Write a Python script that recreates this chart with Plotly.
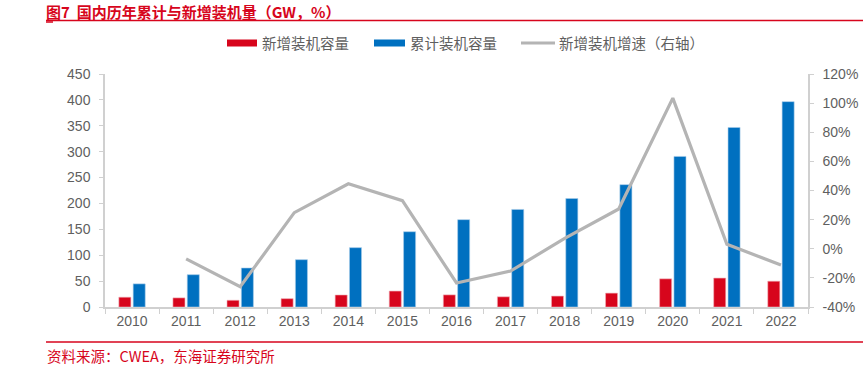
import plotly.graph_objects as go

years = ["2010", "2011", "2012", "2013", "2014", "2015", "2016",
         "2017", "2018", "2019", "2020", "2021", "2022"]
new_cap = [18.9, 17.6, 13.0, 16.1, 23.2, 30.8, 23.4, 19.7, 21.1, 26.8, 54.4, 55.9, 49.8]
cum_cap = [44.7, 62.4, 75.3, 91.4, 114.6, 145.4, 168.7, 188.4, 209.5, 236.3, 290.8, 346.7, 396.6]
growth_years = years[1:]
growth = [-6.9, -26.1, 24.8, 44.6, 33.0, -23.5, -15.3, 7.1, 27.3, 103.4, 3.1, -11.2]

left_ticks = [0, 50, 100, 150, 200, 250, 300, 350, 400, 450]
right_ticks = [-40, -20, 0, 20, 40, 60, 80, 100, 120]
right_tick_text = [f"{v}%" for v in right_ticks]

RED = "#d7051c"
BLUE = "#0070c0"
GRAY = "#b4b4b4"
TXT = "#5f5f5f"
AXIS = "#d0d0d0"
FONT = "Liberation Sans, Noto Sans CJK SC, sans-serif"
CJK = "Noto Sans CJK SC, Liberation Sans, sans-serif"

fig = go.Figure()
fig.add_trace(go.Bar(x=years, y=new_cap, name="新增装机容量",
                     marker=dict(color=RED, line=dict(color="#f0b0b8", width=0.6)),
                     showlegend=False))
fig.add_trace(go.Bar(x=years, y=cum_cap, name="累计装机容量",
                     marker=dict(color=BLUE, line=dict(color="#a8cdea", width=0.6)),
                     showlegend=False))
fig.add_trace(go.Scatter(x=growth_years, y=growth, name="新增装机增速（右轴）",
                         mode="lines", line=dict(color=GRAY, width=3.2),
                         yaxis="y2", showlegend=False))

fig.update_layout(
    width=863, height=369,
    margin=dict(l=105, r=55, t=74, b=62),
    paper_bgcolor="white", plot_bgcolor="white",
    barmode="group", bargap=0.47, bargroupgap=0.16,
    font=dict(family=FONT, size=14, color=TXT),
    xaxis=dict(type="category", showline=True, linecolor=AXIS, linewidth=1.5,
               ticks="outside", tickson="boundaries", ticklen=5, tickcolor=AXIS,
               tickfont=dict(size=14, color=TXT), showgrid=False, zeroline=False,
               automargin=False),
    yaxis=dict(range=[0, 450], tickvals=left_ticks, showline=True, linecolor=AXIS,
               linewidth=1.5, ticks="outside", ticklen=4, tickcolor=AXIS,
               showgrid=False, zeroline=False, tickfont=dict(size=14, color=TXT),
               ticklabelstandoff=6, automargin=False),
    yaxis2=dict(range=[-40, 120], tickvals=right_ticks, ticktext=right_tick_text,
                overlaying="y", side="right", showline=True, linecolor=AXIS,
                linewidth=1.5, ticks="outside", ticklen=4, tickcolor=AXIS,
                showgrid=False, zeroline=False, tickfont=dict(size=14, color=TXT),
                ticklabelstandoff=6, automargin=False),
)

def px_x(p):
    return (p - 105) / 703

def px_y(p):
    return (307 - p) / 233

# Title and rules
fig.add_annotation(xref="paper", yref="paper", x=px_x(45), y=px_y(0),
                   xanchor="left", yanchor="top", showarrow=False, borderpad=0,
                   text="<b>图7  国内历年累计与新增装机量（GW，%）</b>",
                   font=dict(family=CJK, size=15, color=RED))
shapes = [
    dict(type="line", xref="paper", yref="paper", x0=px_x(46), x1=px_x(863),
         y0=px_y(20.5), y1=px_y(20.5), line=dict(color=RED, width=1.5)),
    dict(type="line", xref="paper", yref="paper", x0=px_x(46), x1=px_x(53),
         y0=px_y(22), y1=px_y(22), line=dict(color=RED, width=1.5)),
    dict(type="line", xref="paper", yref="paper", x0=px_x(46), x1=px_x(863),
         y0=px_y(342), y1=px_y(342), line=dict(color=RED, width=1.5)),
]
fig.add_annotation(xref="paper", yref="paper", x=px_x(45), y=px_y(355),
                   xanchor="left", yanchor="middle", showarrow=False,
                   text="资料来源：CWEA，东海证券研究所",
                   font=dict(family=CJK, size=14.5, color=RED))

# Legend (custom)
ly = 43
legend_items = [
    (227, 257, RED, 7, "新增装机容量", 260),
    (374, 405, BLUE, 7, "累计装机容量", 408),
    (521, 555, GRAY, 3, "新增装机增速（右轴）", 557),
]
for x0, x1, col, w, label, tx in legend_items:
    shapes.append(dict(type="line", xref="paper", yref="paper", x0=px_x(x0), x1=px_x(x1),
                       y0=px_y(ly), y1=px_y(ly), line=dict(color=col, width=w)))
    fig.add_annotation(xref="paper", yref="paper", x=px_x(tx), y=px_y(ly),
                       xanchor="left", yanchor="middle", showarrow=False, text=label,
                       font=dict(family=CJK, size=14.5, color=TXT))
fig.update_layout(shapes=shapes)

fig.write_html("out.html", config={"displayModeBar": False},
               post_script="document.body.style.margin='0px';document.body.style.padding='0px';")
